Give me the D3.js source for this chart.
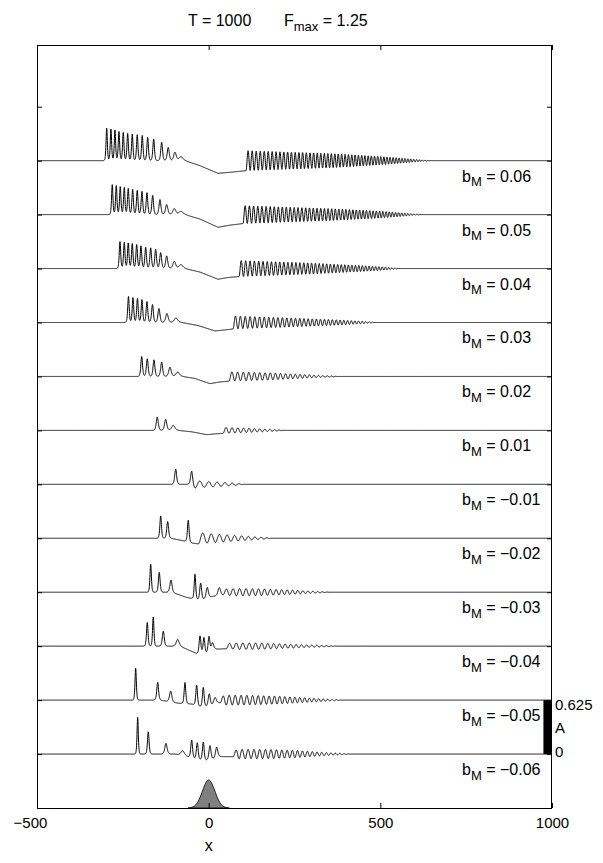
<!DOCTYPE html>
<html><head><meta charset="utf-8">
<script src="https://cdn.jsdelivr.net/npm/d3@7"></script>
<style>
body{margin:0;background:#fff;}
text{font-family:"Liberation Sans",Arial,Helvetica,sans-serif;fill:#000;}
</style>
</head><body>
<svg id="chart" width="603" height="863"></svg>
<script>
// ---------------- DATA ----------------
const bMLabels = ["0.06","0.05","0.04","0.03","0.02","0.01","\u22120.01","\u22120.02","\u22120.03","\u22120.04","\u22120.05","\u22120.06"];
const traceOffsets = [7.5, 6.875, 6.25, 5.625, 5.0, 4.375, 3.75, 3.125, 2.5, 1.875, 1.25, 0.625];
const xTicks = [-500, 0, 500, 1000];
const yTicks = [0.625, 1.25, 1.875, 2.5, 3.125, 3.75, 4.375, 5.0, 5.625, 6.25, 6.875, 7.5, 8.125];
const scaleBarValue = 0.625;

// soliton peaks [x, amplitude]
const peaksP06 = [[-297,.378],[-284.6,.367],[-272.9,.355],[-261.3,.339],[-248.7,.328],[-235.9,.316],[-222.5,.309],[-208,.301],[-193.4,.293],[-177.7,.270],[-160.2,.251],[-136.9,.212],[-117.7,.154],[-98.2,.096],[-80.7,.046]];
const peaksP05 = [[-280.8,.347],[-269.1,.336],[-257.5,.324],[-245.8,.316],[-234.2,.304],[-221.4,.293],[-208,.281],[-194.3,.270],[-179.7,.255],[-163.1,.223],[-141.8,.174],[-122.3,.116],[-100.2,.069],[-80.7,.038]];
const peaksP04 = [[-258.3,.3125],[-245.8,.304],[-234.2,.297],[-222.5,.289],[-209.7,.278],[-197.2,.263],[-183.5,.247],[-168.9,.240],[-154.4,.223],[-139.8,.185],[-122.3,.147],[-100.2,.084],[-80.7,.046]];
const peaksP03 = [[-233.6,.301],[-220.5,.289],[-207.4,.278],[-194.3,.266],[-179.7,.243],[-163.7,.208],[-144.8,.162],[-121.5,.104],[-95.2,.052]];
const peaksP02 = [[-195.1,.231],[-178.8,.205],[-159.3,.193],[-136.9,.166],[-112.7,.108],[-90.3,.050]];
const peaksP01 = [[-149.7,.154],[-125.2,.127],[-103.1,.058]];
const peaksM01 = [[-96.1,.177],[-49.5,.154]];
const peaksM02 = [[-139.8,.258],[-119.4,.193],[-59.4,.252]];
const peaksM03 = [[-168.9,.324],[-143.9,.231],[-109.8,.142],[-39.9,.289],[-23.3,.19],[-4.1,.127],[30.9,.093]];
const peaksM04 = [[-178.8,.274],[-161.4,.339],[-132.2,.174],[-90.3,.078],[-25.3,.208],[-13.7,.193],[0.9,.189],[11.1,.104]];
const peaksM05 = [[-212.6,.37],[-148.5,.205],[-110.7,.125],[-69,.245],[-35,.235],[-15.7,.222],[1.7,.147],[18.4,.081]];
const peaksM06 = [[-206.8,.425],[-175.9,.258],[-124.4,.124],[-75.7,.054],[-49.5,.208],[-33.2,.193],[-15.7,.211],[3.8,.162],[23.3,.124]];

// slowly varying level (depression) [x, level]
const shelfP06 = [[-69,0],[-25.3,-.058],[27.1,-.147],[67.9,-.133],[108.6,-.116]];
const shelfP05 = [[-69,0],[-25.3,-.052],[27.1,-.147],[62,-.122],[100,-.104]];
const shelfP04 = [[-69,0],[-25.3,-.041],[27.1,-.124],[56.2,-.104],[88.2,-.093]];
const shelfP03 = [[-77.8,0],[-31.2,-.035],[18.4,-.098],[44.6,-.087],[70.8,-.075]];
const shelfP02 = [[-77.8,0],[-39.9,-.023],[3.8,-.084],[32.9,-.064],[59.1,-.054]];
const shelfP01 = [[-89.4,0],[-48.6,-.017],[-5,-.05],[18.4,-.04],[41.6,-.035]];
const shelfM01 = [[-49.5,0],[-39.9,-.046]];
const shelfM02 = [[-110,0],[-66,-.035],[-48.6,-.055],[-30.3,-.065]];
const shelfM03 = [[-107,0],[-66.1,-.058],[-31.2,-.087],[-10.8,-.08],[9.6,-.05],[41.6,-.035]];
const shelfM04 = [[-83.6,0],[-34.1,-.087],[-10.8,-.093],[9.6,-.07],[20,-.035],[50.4,-.03]];
const shelfM05 = [[-142,0],[-89.4,-.035],[-48.6,-.046],[-25.3,-.075],[3.8,-.075],[21.3,-.046],[32.9,-.03]];
const shelfM06 = [[-98.2,0],[-66.1,-.023],[-39.9,-.058],[-10.8,-.075],[12.5,-.058],[32.9,-.03],[70.8,-.03]];

// trailing wave train amplitude envelope [x, amplitude]
const waveP06 = [[108.6,.116],[362,.081],[508,.046],[578,.023],[645,0]];
const waveP05 = [[100,.104],[354,.069],[499,.040],[571,.017],[621,0]];
const waveP04 = [[88.2,.093],[295,.064],[441,.035],[514,.017],[557,0]];
const waveP03 = [[70.8,.075],[236.8,.052],[382.4,.029],[455.2,.012],[484,0]];
const waveP02 = [[59.1,.054],[178.5,.041],[295,.017],[353.5,.006],[382.4,0]];
const waveP01 = [[41.6,.035],[120.3,.023],[178.5,.012],[222.2,0]];
const waveM01 = [[-39.9,.046],[-20,.035],[18.4,.028],[76.6,.012],[105.7,0]];
const waveM02 = [[-30.3,.065],[9.6,.05],[47.5,.04],[105.7,.025],[149.4,.012],[184.4,0]];
const waveM03 = [[41.6,.035],[80,.042],[149.4,.04],[236.8,.025],[309.6,.01],[353.3,0]];
const waveM04 = [[50.4,.03],[90,.038],[160,.035],[250,.02],[330,.008],[380,0]];
const waveM05 = [[32.9,.03],[47,.058],[120,.055],[200,.045],[266,.03],[340,.012],[400,0]];
const waveM06 = [[70.8,.03],[85,.055],[180,.052],[260,.04],[330,.02],[390,.006],[420,0]];
// wavelength at start / end of each wave train
const waveLambdaStart = [12, 12.5, 13, 14.5, 17, 18, 28, 26, 20, 20, 18, 18];
const waveLambdaEnd   = [8, 8.5, 9, 10, 12, 13, 18, 16, 13, 13, 12, 12];

// forcing profile at the bottom
const forcingX = [-60,-45,-35,-25,-15,-5,0,5,15,25,35,45,60];
const forcingY = [0,.014,.049,.124,.230,.313,.325,.313,.230,.124,.049,.014,0];

// ---------------- BUILD ----------------
const peaksAll = [peaksP06,peaksP05,peaksP04,peaksP03,peaksP02,peaksP01,peaksM01,peaksM02,peaksM03,peaksM04,peaksM05,peaksM06];
const shelfAll = [shelfP06,shelfP05,shelfP04,shelfP03,shelfP02,shelfP01,shelfM01,shelfM02,shelfM03,shelfM04,shelfM05,shelfM06];
const waveAll  = [waveP06,waveP05,waveP04,waveP03,waveP02,waveP01,waveM01,waveM02,waveM03,waveM04,waveM05,waveM06];

const M = {left: 37, right: 552, top: 45, bottom: 808};
const x = d3.scaleLinear().domain([-500, 1000]).range([M.left, M.right]);
const y = d3.scaleLinear().domain([0, 8.84]).range([M.bottom, M.top]);

const svg = d3.select("#chart");

function traceValues(peaks, shelf, env, lam0, lam1) {
  const xs = d3.range(-500, 1000.0001, 0.4);
  const shelfF = d3.scaleLinear().domain(shelf.map(d => d[0])).range(shelf.map(d => d[1]));
  const envF = d3.scaleLinear().domain(env.map(d => d[0])).range(env.map(d => d[1]));
  const s0 = shelf[0][0], s1 = shelf[shelf.length - 1][0];
  const w0 = env[0][0], w1 = env[env.length - 1][0];
  let phase = 0;
  return xs.map(xx => {
    let v = 0;
    if (xx >= s0 && xx < s1) v += shelfF(xx);
    for (const [px, h] of peaks) {
      const w = 1.54 / Math.sqrt(h);
      const s = 1 / Math.cosh((xx - px) / w);
      v += h * s * s;
    }
    if (xx >= w0 && xx <= w1) {
      const t = (xx - w0) / (w1 - w0);
      const lam = lam0 + (lam1 - lam0) * t;
      v += -envF(xx) * Math.cos(phase);
      phase += 2 * Math.PI * 0.4 / lam;
    }
    return [xx, v];
  });
}

const g = svg.append("g");
svg.append("clipPath").attr("id","clipbox").append("rect")
  .attr("x", M.left).attr("y", M.top).attr("width", M.right - M.left).attr("height", M.bottom - M.top);

// forcing
const forcing = forcingX.map((d, i) => [d, forcingY[i]]);
g.append("path").datum(forcing)
  .attr("d", d3.area().x(d => x(d[0])).y0(y(0)).y1(d => y(d[1])).curve(d3.curveMonotoneX))
  .attr("fill", "#808080").attr("stroke", "#000").attr("stroke-width", 0.8);

// traces
const line = d3.line();
peaksAll.forEach((pk, i) => {
  const vals = traceValues(pk, shelfAll[i], waveAll[i], waveLambdaStart[i], waveLambdaEnd[i]);
  const off = traceOffsets[i];
  g.append("path")
    .attr("d", line(vals.map(d => [x(d[0]), y(off + d[1])])))
    .attr("fill", "none").attr("stroke", "#000").attr("stroke-width", 1)
    .attr("clip-path", "url(#clipbox)");
  const t = g.append("text").attr("x", 462).attr("y", y(off) + 21).attr("font-size", 16);
  t.append("tspan").text("b");
  t.append("tspan").attr("dy", 4.5).attr("font-size", 13).text("M");
  t.append("tspan").attr("dy", -4.5).text(" = " + bMLabels[i]);
});

// scale bar
g.append("rect")
  .attr("x", x(975)).attr("width", x(1000) - x(975) - 1)
  .attr("y", y(traceOffsets[10])).attr("height", y(traceOffsets[11]) - y(traceOffsets[10]))
  .attr("fill", "#000");
svg.append("text").attr("x", M.right + 3).attr("y", y(traceOffsets[11] + scaleBarValue) + 10).attr("font-size", 15).text("0.625");
svg.append("text").attr("x", M.right + 3).attr("y", y(traceOffsets[11] + scaleBarValue / 2) + 6).attr("font-size", 15).text("A");
svg.append("text").attr("x", M.right + 3).attr("y", y(traceOffsets[11]) + 3).attr("font-size", 15).text("0");

// axes
const fmt = d => d < 0 ? "\u2212" + Math.abs(d) : String(d);
const xb = svg.append("g").attr("transform", `translate(0,${M.bottom})`)
  .call(d3.axisBottom(x).tickValues(xTicks).tickSizeInner(-5).tickSizeOuter(0).tickPadding(9).tickFormat(fmt));
const xt = svg.append("g").attr("transform", `translate(0,${M.top})`)
  .call(d3.axisTop(x).tickValues(xTicks).tickSizeInner(-5).tickSizeOuter(0).tickFormat(""));
const yl = svg.append("g").attr("transform", `translate(${M.left},0)`)
  .call(d3.axisLeft(y).tickValues(yTicks).tickSizeInner(-5).tickSizeOuter(0).tickFormat(""));
const yr = svg.append("g").attr("transform", `translate(${M.right},0)`)
  .call(d3.axisRight(y).tickValues(yTicks).tickSizeInner(-5).tickSizeOuter(0).tickFormat(""));
[xb, xt, yl, yr].forEach(a => {
  a.select(".domain").remove();
  a.selectAll("line").attr("stroke", "#000").attr("stroke-width", 1);
  a.selectAll("text").attr("font-size", 15).attr("fill", "#000")
    .attr("font-family", '"Liberation Sans",Arial,sans-serif');
});
xb.selectAll(".tick text").filter(d => d < 0).attr("dx", -7);
svg.append("rect").attr("x", M.left + 0.5).attr("y", M.top + 0.5)
  .attr("width", M.right - M.left - 1).attr("height", M.bottom - M.top)
  .attr("fill", "none").attr("stroke", "#000").attr("stroke-width", 1);

// axis label
svg.append("text").attr("x", x(0)).attr("y", 851).attr("text-anchor", "middle").attr("font-size", 16).text("x");

// title
const title = svg.append("text").attr("x", 188).attr("y", 26).attr("font-size", 16);
title.append("tspan").text("T = 1000");
title.append("tspan").attr("x", 284).text("F");
title.append("tspan").attr("dy", 5).attr("font-size", 13).text("max");
title.append("tspan").attr("dy", -5).text(" = 1.25");
</script>
</body></html>
